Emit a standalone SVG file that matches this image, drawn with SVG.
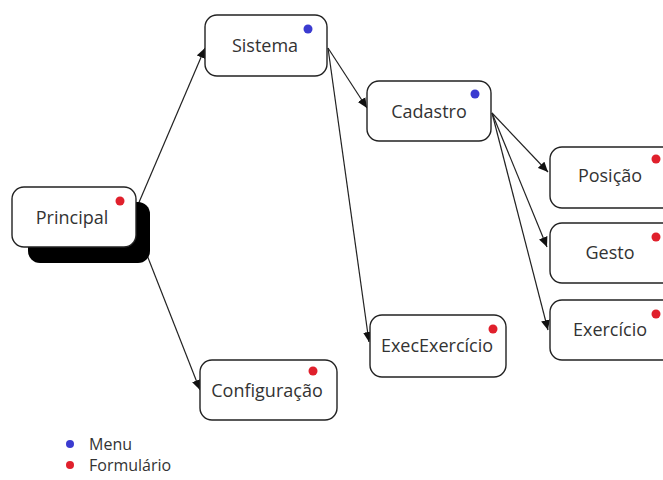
<svg xmlns="http://www.w3.org/2000/svg" width="663" height="480" viewBox="0 0 663 480">
  <style>
    .box { fill: #ffffff; stroke: #222222; stroke-width: 1.4; }
    .shadow { fill: #000000; }
    .label { font-family: "Open Sans", "Noto Sans", "DejaVu Sans", sans-serif; font-size: 18px; fill: #333333; text-anchor: middle; }
    .legend { font-family: "Open Sans", "Noto Sans", "DejaVu Sans", sans-serif; font-size: 16px; fill: #333333; }
    .edge { stroke: #222222; stroke-width: 1.2; fill: none; marker-end: url(#arrow); }
    .menu { fill: #3b3bd0; }
    .form { fill: #e0202c; }
  </style>
  <defs>
    <marker id="arrow" viewBox="0 0 10 10" refX="10" refY="5" markerWidth="10" markerHeight="10" markerUnits="userSpaceOnUse" orient="auto">
      <path d="M0,0.5 L10,5 L0,9.5 Z" fill="#111111"/>
    </marker>
  </defs>

  <rect width="663" height="480" fill="#ffffff"/>

  <!-- connectors -->
  <g id="connectors">
    <line class="edge" x1="137" y1="207" x2="205" y2="48"/>
    <line class="edge" x1="145" y1="250" x2="200" y2="390"/>
    <line class="edge" x1="328" y1="48" x2="367" y2="108"/>
    <line class="edge" x1="328" y1="48" x2="369" y2="342"/>
    <line class="edge" x1="492" y1="113" x2="548" y2="172"/>
    <line class="edge" x1="492" y1="113" x2="547" y2="247"/>
    <line class="edge" x1="492" y1="113" x2="548" y2="330"/>
  </g>

  <!-- nodes -->
  <g id="principal">
    <rect class="shadow" x="28" y="202" width="122" height="61" rx="12"/>
    <rect class="box" x="12" y="187" width="124" height="60" rx="12"/>
    <text class="label" x="72" y="224">Principal</text>
    <circle class="form" cx="120" cy="201" r="4.5"/>
  </g>

  <g id="sistema">
    <rect class="box" x="205" y="15" width="122" height="61" rx="12"/>
    <text class="label" x="265" y="52">Sistema</text>
    <circle class="menu" cx="308" cy="29" r="4.5"/>
  </g>

  <g id="cadastro">
    <rect class="box" x="367" y="81" width="124" height="60" rx="12"/>
    <text class="label" x="429" y="118">Cadastro</text>
    <circle class="menu" cx="475" cy="94" r="4.5"/>
  </g>

  <g id="posicao">
    <rect class="box" x="550" y="147" width="124" height="61" rx="12"/>
    <text class="label" x="610" y="182">Posição</text>
    <circle class="form" cx="656" cy="159" r="4.5"/>
  </g>

  <g id="gesto">
    <rect class="box" x="550" y="223" width="124" height="60" rx="12"/>
    <text class="label" x="610" y="259">Gesto</text>
    <circle class="form" cx="656" cy="237" r="4.5"/>
  </g>

  <g id="exercicio">
    <rect class="box" x="550" y="300" width="124" height="60" rx="12"/>
    <text class="label" x="610" y="336">Exercício</text>
    <circle class="form" cx="656" cy="314" r="4.5"/>
  </g>

  <g id="execexercicio">
    <rect class="box" x="370" y="315" width="136" height="62" rx="12"/>
    <text class="label" x="437" y="352">ExecExercício</text>
    <circle class="form" cx="493" cy="329" r="4.5"/>
  </g>

  <g id="configuracao">
    <rect class="box" x="200" y="360" width="137" height="60" rx="12"/>
    <text class="label" x="267" y="397">Configuração</text>
    <circle class="form" cx="313" cy="371" r="4.5"/>
  </g>

  <!-- legend -->
  <g id="legend">
    <circle class="menu" cx="70" cy="444" r="4"/>
    <text class="legend" x="89" y="450">Menu</text>
    <circle class="form" cx="70" cy="465" r="4"/>
    <text class="legend" x="89" y="471">Formulário</text>
  </g>
</svg>
